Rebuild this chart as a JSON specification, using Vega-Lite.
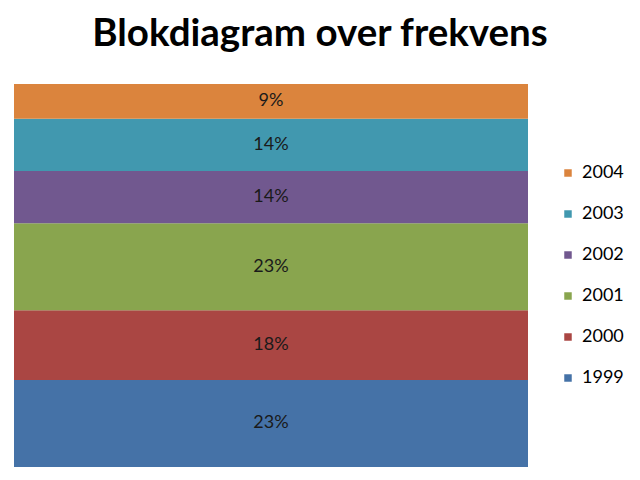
{
  "$schema": "https://vega.github.io/schema/vega-lite/v6.json",
  "autosize": "none",
  "width": 514,
  "height": 383,
  "padding": {"left": 14, "top": 84, "right": 112, "bottom": 13},
  "background": "white",
  "title": {
    "text": "Blokdiagram over frekvens",
    "font": "Lato",
    "fontSize": 38.5,
    "fontWeight": "bold",
    "color": "#000000",
    "anchor": "middle",
    "dx": 49,
    "baseline": "alphabetic",
    "offset": 0
  },
  "data": {
    "values": [
      {"kategori": "A", "aar": "1999", "frekvens": 5, "andel": "23%"},
      {"kategori": "A", "aar": "2000", "frekvens": 4, "andel": "18%"},
      {"kategori": "A", "aar": "2001", "frekvens": 5, "andel": "23%"},
      {"kategori": "A", "aar": "2002", "frekvens": 3, "andel": "14%"},
      {"kategori": "A", "aar": "2003", "frekvens": 3, "andel": "14%"},
      {"kategori": "A", "aar": "2004", "frekvens": 2, "andel": "9%"}
    ]
  },
  "encoding": {
    "x": {
      "field": "kategori",
      "type": "nominal",
      "axis": null,
      "scale": {"paddingInner": 0, "paddingOuter": 0}
    },
    "y": {
      "field": "frekvens",
      "type": "quantitative",
      "stack": "zero",
      "axis": null,
      "scale": {"domain": [0, 22], "nice": false}
    },
    "order": {"field": "aar", "type": "ordinal", "sort": "ascending"}
  },
  "layer": [
    {
      "mark": {"type": "bar"},
      "encoding": {
        "color": {
          "field": "aar",
          "type": "nominal",
          "sort": "descending",
          "scale": {
            "domain": ["2004", "2003", "2002", "2001", "2000", "1999"],
            "range": ["#DB843D", "#4198AF", "#71588F", "#89A54E", "#AA4643", "#4572A7"]
          },
          "legend": {
            "title": null,
            "orient": "none",
            "legendX": 545,
            "legendY": 80,
            "symbolType": "square",
            "symbolSize": 56,
            "symbolStrokeWidth": 0,
            "labelFont": "Lato",
            "labelFontSize": 18,
            "labelColor": "#000000",
            "labelOffset": 5,
            "rowPadding": 23,
            "padding": 0
          }
        }
      }
    },
    {
      "mark": {"type": "text", "font": "Lato", "fontSize": 18, "color": "#1a1a1a", "baseline": "middle"},
      "encoding": {
        "y": {
          "field": "frekvens",
          "type": "quantitative",
          "stack": "zero",
          "bandPosition": 0.5
        },
        "text": {"field": "andel", "type": "nominal"}
      }
    }
  ],
  "config": {"view": {"stroke": null}}
}
